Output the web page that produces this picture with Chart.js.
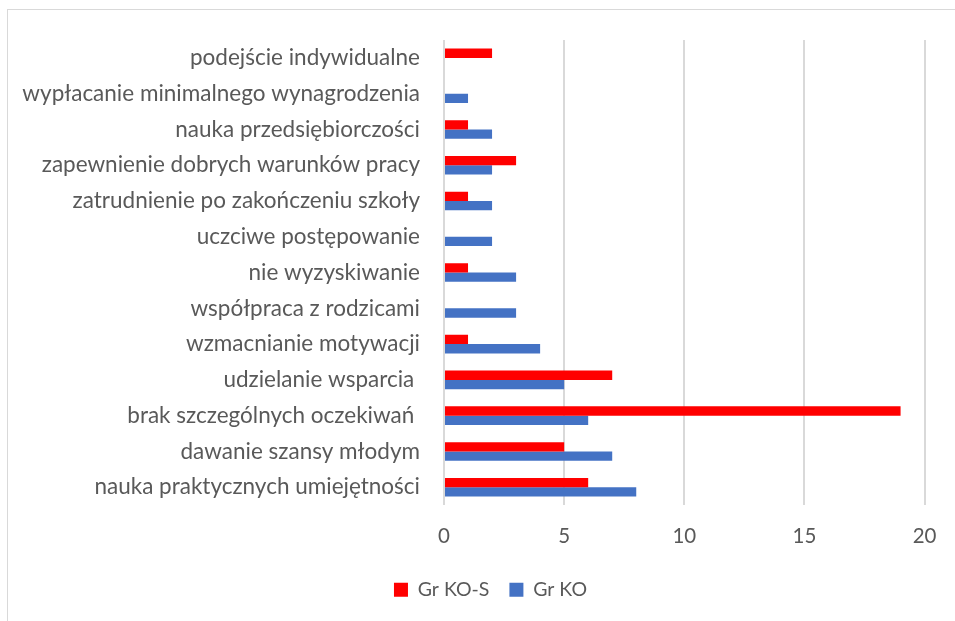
<!DOCTYPE html>
<html><head><meta charset="utf-8">
<script src="https://cdn.jsdelivr.net/npm/chart.js@4.4.0/dist/chart.umd.min.js"></script>
<style>
html,body{margin:0;padding:0;background:#fff;overflow:hidden;}
#wrap{position:relative;width:955px;height:621px;}
#frame{position:absolute;left:7px;top:9px;width:1000px;height:1000px;border:1.5px solid #d9d9d9;box-sizing:border-box;}
canvas{position:absolute;left:0;top:0;}
</style></head>
<body><div id="wrap"><div id="frame"></div><canvas id="c" width="955" height="621"></canvas></div>
<script>
const categories = [
  "podejście indywidualne",
  "wypłacanie minimalnego wynagrodzenia",
  "nauka przedsiębiorczości",
  "zapewnienie dobrych warunków pracy",
  "zatrudnienie po zakończeniu szkoły",
  "uczciwe postępowanie",
  "nie wyzyskiwanie",
  "współpraca z rodzicami",
  "wzmacnianie motywacji",
  "udzielanie wsparcia ",
  "brak szczególnych oczekiwań ",
  "dawanie szansy młodym",
  "nauka praktycznych umiejętności"
];
const seriesNames = ["Gr KO-S", "Gr KO"];
const grKOS = [2, 0, 1, 3, 1, 0, 1, 0, 1, 7, 19, 5, 6];
const grKO  = [0, 1, 2, 2, 2, 2, 3, 3, 4, 5, 6, 7, 8];
const xTicks = [0, 5, 10, 15, 20];

const FONT = "Lato, 'Open Sans', sans-serif";
const TXT = "#595959";

const legendShift = {
  id: 'legendShift',
  afterLayout(chart) {
    if (chart.legend) { chart.legend.left += 27; chart.legend.right += 27; }
  }
};

new Chart(document.getElementById('c'), {
  type: 'bar',
  data: {
    labels: categories,
    datasets: [
      {label: seriesNames[0], data: grKOS, backgroundColor: '#FF0000', borderWidth: 0},
      {label: seriesNames[1], data: grKO, backgroundColor: '#4472C4', borderWidth: 0}
    ]
  },
  plugins: [legendShift],
  options: {
    indexAxis: 'y',
    responsive: false,
    animation: false,
    devicePixelRatio: 1,
    datasets: {bar: {categoryPercentage: 0.52, barPercentage: 1.0}},
    layout: {padding: {top: 40, right: 28, bottom: 11.5, left: 0}},
    plugins: {
      tooltip: {enabled: false},
      legend: {
        position: 'bottom',
        labels: {
          color: TXT, font: {family: FONT, size: 19.5},
          boxWidth: 14, boxHeight: 14, padding: 20
        }
      }
    },
    scales: {
      x: {
        min: 0, max: 20,
        afterBuildTicks: s => { s.ticks = xTicks.map(v => ({value: v})); },
        afterFit: s => { s.height = 54.9; },
        grid: {color: '#d9d9d9', lineWidth: 2, drawTicks: false},
        border: {display: false},
        ticks: {color: TXT, font: {family: FONT, size: 20.5}, padding: 18.5}
      },
      y: {
        afterFit: s => { s.width = 444; },
        grid: {display: false, drawTicks: false},
        border: {display: false},
        ticks: {color: TXT, font: {family: FONT, size: 22.5}, padding: 24, autoSkip: false}
      }
    }
  }
});
</script></body></html>
